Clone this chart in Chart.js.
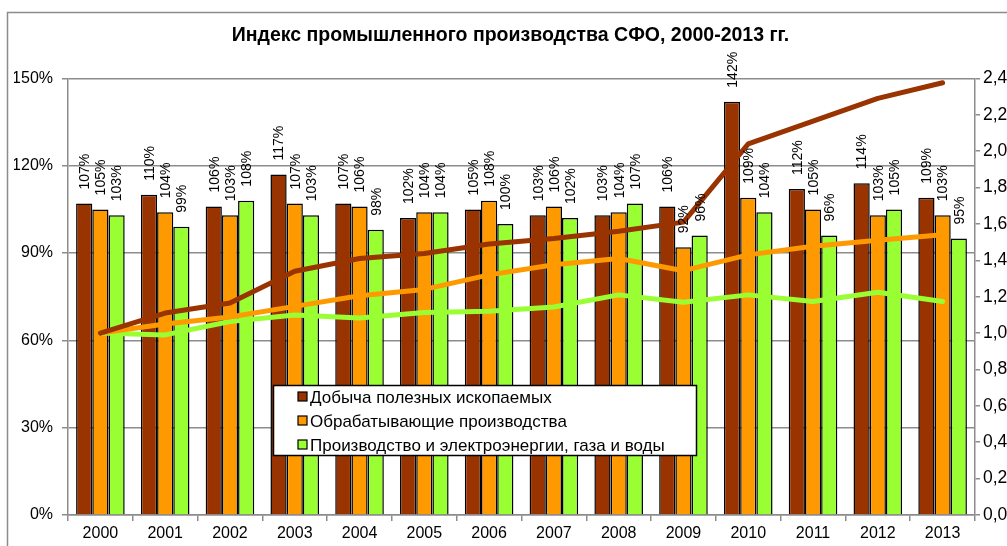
<!DOCTYPE html>
<html>
<head>
<meta charset="utf-8">
<script src="https://cdn.jsdelivr.net/npm/chart.js@4/dist/chart.umd.min.js"></script>
<style>
  html, body { margin: 0; padding: 0; background: #fff; overflow: hidden; }
  canvas { display: block; }
</style>
</head>
<body>
<canvas id="chartSfo" width="1007" height="546"></canvas>
<script>
// годы
const years = ['2000','2001','2002','2003','2004','2005','2006','2007','2008','2009','2010','2011','2012','2013'];

// индексы к предыдущему году, %
const dobycha = [107, 110, 106, 117, 107, 102, 105, 103, 103, 106, 142, 112, 114, 109];
const obrabotka = [105, 104, 103, 107, 106, 104, 108, 106, 104, 92, 109, 105, 103, 103];
const energiya = [103, 99, 108, 103, 98, 104, 100, 102, 107, 96, 104, 96, 105, 95];

// накопленные индексы к 2000 г. (правая ось)
const dobychaNak = [1.00, 1.11, 1.165, 1.34, 1.41, 1.437, 1.49, 1.52, 1.56, 1.61, 2.04, 2.165, 2.29, 2.376];
const obrabotkaNak = [1.00, 1.05, 1.088, 1.147, 1.205, 1.24, 1.32, 1.376, 1.41, 1.343, 1.43, 1.477, 1.51, 1.54];
const energiyaNak = [1.00, 0.99, 1.064, 1.10, 1.083, 1.113, 1.12, 1.143, 1.21, 1.17, 1.21, 1.174, 1.224, 1.174];

const seriesNames = [
    'Добыча полезных ископаемых',
    'Обрабатывающие производства',
    'Производство и электроэнергии, газа и воды'
];

const brown = '#993300';
const orange = '#FF9900';
const green = '#99FF33';
const FONT = '"Liberation Sans", Arial, sans-serif';

// рамка диаграммы
const framePlugin = {
    id: 'frame',
    beforeDraw(chart) {
        const ctx = chart.ctx;
        ctx.save();
        ctx.strokeStyle = '#8c8c8c';
        ctx.lineWidth = 1.5;
        ctx.beginPath();
        ctx.moveTo(7.5, 546);
        ctx.lineTo(7.5, 12.5);
        ctx.lineTo(1007, 12.5);
        ctx.stroke();
        ctx.restore();
    }
};

// подписи над столбиками (повернуты)
const barLabels = {
    id: 'barLabels',
    afterDatasetsDraw(chart) {
        const ctx = chart.ctx;
        ctx.save();
        ctx.font = '14px ' + FONT;
        ctx.fillStyle = '#000';
        ctx.textAlign = 'left';
        ctx.textBaseline = 'middle';
        chart.data.datasets.forEach((ds, i) => {
            if (ds.type !== 'bar') return;
            const meta = chart.getDatasetMeta(i);
            meta.data.forEach((el, j) => {
                ctx.save();
                ctx.translate(el.x + 1, el.y - 14);
                ctx.rotate(-Math.PI / 2);
                ctx.fillText(ds.data[j] + '%', 0, 0);
                ctx.restore();
            });
        });
        ctx.restore();
    }
};

// легенда внутри области построения
const boxLegend = {
    id: 'boxLegend',
    afterDraw(chart) {
        const ctx = chart.ctx;
        const colors = [brown, orange, green];
        ctx.save();
        ctx.fillStyle = '#fff';
        ctx.fillRect(273, 385, 424, 71);
        ctx.strokeStyle = '#000';
        ctx.lineWidth = 1.5;
        ctx.strokeRect(273.5, 385.5, 423, 70);
        ctx.font = '17px ' + FONT;
        ctx.textBaseline = 'middle';
        ctx.textAlign = 'left';
        [397, 421, 445].forEach((y, k) => {
            ctx.fillStyle = colors[k];
            ctx.fillRect(298, y - 5, 9, 9);
            ctx.strokeStyle = '#000';
            ctx.lineWidth = 1.2;
            ctx.strokeRect(298, y - 5, 9, 9);
            ctx.fillStyle = '#000';
            ctx.fillText(seriesNames[k], 310, y + 1);
        });
        ctx.restore();
    }
};

function barSet(label, data, color) {
    return {
        type: 'bar',
        label: label,
        data: data,
        backgroundColor: color,
        borderColor: '#000',
        borderWidth: 1.5,
        yAxisID: 'y',
        order: 2,
        categoryPercentage: 0.75,
        barPercentage: 1
    };
}

function lineSet(label, data, color) {
    return {
        type: 'line',
        label: label,
        data: data,
        borderColor: color,
        backgroundColor: color,
        borderWidth: 5,
        borderCapStyle: 'round',
        borderJoinStyle: 'round',
        pointRadius: 0,
        tension: 0,
        fill: false,
        yAxisID: 'y2',
        order: 1
    };
}

new Chart(document.getElementById('chartSfo'), {
    data: {
        labels: years,
        datasets: [
            barSet(seriesNames[0], dobycha, brown),
            barSet(seriesNames[1], obrabotka, orange),
            barSet(seriesNames[2], energiya, green),
            lineSet(seriesNames[0], dobychaNak, brown),
            lineSet(seriesNames[1], obrabotkaNak, orange),
            lineSet(seriesNames[2], energiyaNak, green)
        ]
    },
    options: {
        responsive: false,
        animation: false,
        layout: { padding: { left: 14, right: 0, top: 0, bottom: 0 } },
        plugins: {
            legend: { display: false },
            tooltip: { enabled: false },
            title: {
                display: true,
                text: 'Индекс промышленного производства СФО, 2000-2013 гг.',
                color: '#000',
                font: { family: FONT, size: 19.5, weight: 'bold' },
                padding: { top: 24, bottom: 31 }
            }
        },
        scales: {
            x: {
                offset: true,
                grid: { display: true, offset: true, drawOnChartArea: false, color: '#8c8c8c', tickLength: 6, lineWidth: 1.5 },
                border: { display: true, color: '#8c8c8c', width: 1.5 },
                ticks: { color: '#000', font: { family: FONT, size: 16 }, padding: 3, maxRotation: 0 },
                afterFit(s) { s.height = 31; }
            },
            y: {
                position: 'left',
                min: 0,
                max: 150,
                ticks: {
                    stepSize: 30,
                    color: '#000',
                    font: { family: FONT, size: 16 },
                    padding: 9,
                    callback: v => v + '%'
                },
                grid: { color: '#8c8c8c', lineWidth: 1.5, tickLength: 6 },
                border: { display: true, color: '#8c8c8c', width: 1.5 },
                afterFit(s) { s.width = 54; }
            },
            y2: {
                position: 'right',
                min: 0,
                max: 2.4,
                ticks: {
                    stepSize: 0.2,
                    color: '#000',
                    font: { family: FONT, size: 17.5 },
                    padding: 3,
                    callback: v => v.toFixed(2).replace('.', ',')
                },
                grid: { drawOnChartArea: false, color: '#8c8c8c', lineWidth: 1.5, tickLength: 5 },
                border: { display: true, color: '#8c8c8c', width: 1.5 },
                afterFit(s) { s.width = 32; }
            }
        }
    },
    plugins: [framePlugin, barLabels, boxLegend]
});
</script>
</body>
</html>
